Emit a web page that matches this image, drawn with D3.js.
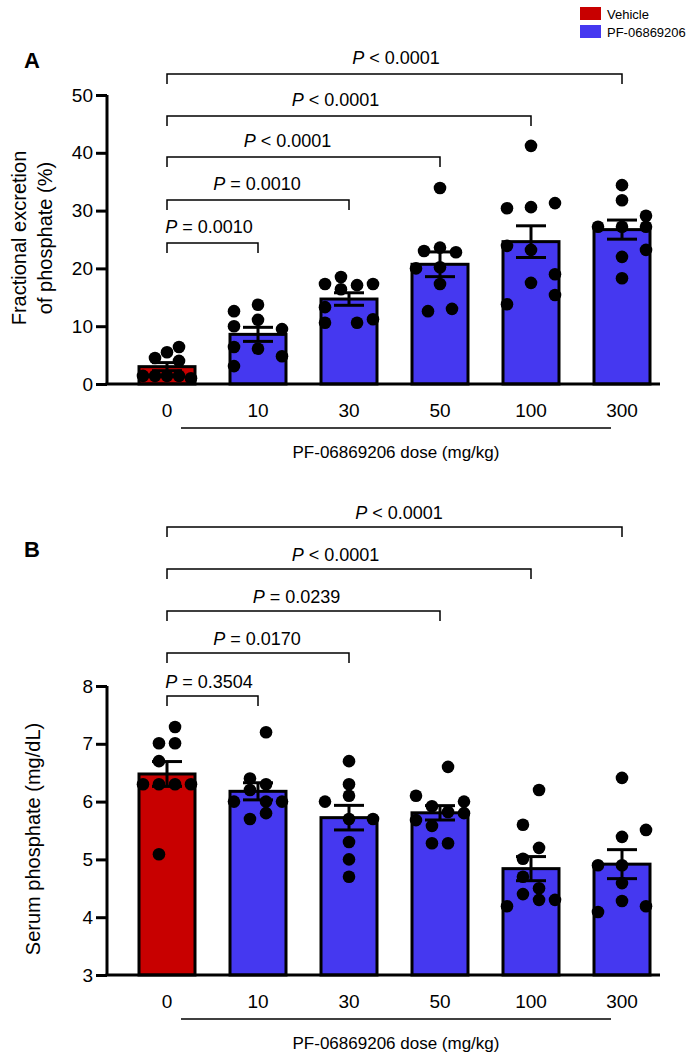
<!DOCTYPE html>
<html><head><meta charset="utf-8">
<script src="https://cdn.jsdelivr.net/npm/d3@7"></script>
<style>
body{margin:0;background:#fff}
text{font-family:"Liberation Sans",Arial,Helvetica,sans-serif;fill:#000}
</style></head>
<body>
<svg id="chart" width="696" height="1064"></svg>
<script>
// ---------------- DATA ----------------
const doses = ["0", "10", "30", "50", "100", "300"];
const doseGroup = ["Vehicle", "PF-06869206", "PF-06869206", "PF-06869206", "PF-06869206", "PF-06869206"];
const legendLabels = ["Vehicle", "PF-06869206"];

// Panel A: fractional excretion of phosphate (%), one array per dose
const fe0   = [4.5, 5.5, 6.4, 4.0, 1.4, 1.4, 1.4, 1.4, 1.0];
const fe10  = [12.6, 13.7, 10.0, 11.1, 6.1, 6.4, 3.1, 9.5, 4.8];
const fe30  = [17.3, 18.5, 16.4, 17.1, 17.3, 13.3, 10.6, 10.6, 11.2];
const fe50  = [33.9, 23.6, 23.0, 22.8, 20.2, 20.0, 17.3, 12.6, 13.0];
const fe100 = [41.2, 30.4, 30.6, 31.3, 23.9, 23.2, 17.5, 19.0, 15.4, 13.8];
const fe300 = [34.4, 31.8, 29.1, 27.2, 27.2, 27.2, 23.2, 22.0, 18.3];
// scatter jitter slot (dimensionless) of each point
const feJit0   = [-1, 0, 1, 1, -2, -1, 0, 1, 2];
const feJit10  = [-2, 0, -2, 0, 0, -2, -2, 2, 2];
const feJit30  = [-2, -0.67, -0.67, 0.67, 2, -2, -2, 0.67, 2];
const feJit50  = [0, 0, -1.33, 1.33, 0, -2, 0, -1, 1];
const feJit100 = [0, -2, 0, 2, -2, 0, 0, 2, 2, -2];
const feJit300 = [0, 0, 2, -2, 0, 2, 2, 0, 0];

// Panel B: serum phosphate (mg/dL)
const sp0   = [7.29, 7.01, 7.01, 6.70, 6.30, 6.30, 6.30, 6.30, 5.09];
const sp10  = [7.2, 6.4, 6.3, 6.2, 6.0, 6.0, 6.0, 5.8, 5.7];
const sp30  = [6.7, 6.3, 6.1, 6.0, 5.7, 5.7, 5.3, 5.0, 4.7];
const sp50  = [6.6, 6.1, 5.92, 5.82, 6.0, 5.8, 5.68, 5.58, 5.28, 5.28];
const sp100 = [6.2, 5.6, 5.2, 5.01, 4.7, 4.5, 4.4, 4.3, 4.19, 4.3];
const sp300 = [6.41, 5.51, 5.39, 4.9, 4.9, 4.59, 4.28, 4.09, 4.19];
const spJit0   = [0.67, -0.67, 0.67, -0.67, -2, -0.67, 0.67, 2, -0.67];
const spJit10  = [0.67, -0.67, 0.67, -0.67, -2, 0.67, 2, 0.67, -0.67];
const spJit30  = [0, 0, 0, -2, 0, 2, 0, 0, 0];
const spJit50  = [0.67, -2, -0.67, 0.67, 2, 2, -2, -0.67, -0.67, 0.67];
const spJit100 = [0.67, -0.67, 0.67, -0.67, -0.67, 0.67, -0.67, 0.67, -2, 2];
const spJit300 = [0, 2, 0, -2, 0, 0, 0, -2, 2];

// axis ticks
const feTicks = [0, 10, 20, 30, 40, 50];
const spTicks = [3, 4, 5, 6, 7, 8];

// significance comparisons (vs dose 0)
const feCompareTo = ["300", "100", "50", "30", "10"];
const fePLabels   = ["< 0.0001", "< 0.0001", "< 0.0001", "= 0.0010", "= 0.0010"];
const spCompareTo = ["300", "100", "50", "30", "10"];
const spPLabels   = ["< 0.0001", "< 0.0001", "= 0.0239", "= 0.0170", "= 0.3504"];

const xTitle = "PF-06869206 dose (mg/kg)";

// ---------------- LAYOUT / STYLE ----------------
const colors = {"Vehicle": "#c80000", "PF-06869206": "#4538f0"};
const svg = d3.select("#chart");
const axisX0 = 107, axisX1 = 660;
const barW = 56, slot = 12, dotR = 6.3, capW = 30;
const x = d3.scalePoint().domain(doses).range([167, 622]);

function stats(v) {
  const m = d3.mean(v);
  const sem = d3.deviation(v) / Math.sqrt(v.length);
  return {m, sem};
}

function panel(cfg) {
  const g = svg.append("g");
  const y = d3.scaleLinear().domain(cfg.domain).range(cfg.range);
  const base = cfg.range[0];

  // bars
  const rows = doses.map((d, i) => ({dose: d, group: doseGroup[i], vals: cfg.values[i], jit: cfg.jit[i], ...stats(cfg.values[i])}));
  g.selectAll("rect.bar").data(rows).join("rect")
    .attr("x", d => x(d.dose) - barW / 2)
    .attr("width", barW)
    .attr("y", d => y(d.m))
    .attr("height", d => base - y(d.m))
    .attr("fill", d => colors[d.group])
    .attr("stroke", "#000").attr("stroke-width", 3);

  // dots
  rows.forEach(r => {
    g.selectAll(null).data(r.vals.map((v, k) => ({v, j: r.jit[k]}))).join("circle")
      .attr("cx", d => x(r.dose) + d.j * slot)
      .attr("cy", d => y(d.v))
      .attr("r", dotR).attr("fill", "#000");
  });

  // error bars (mean ± SEM)
  const eb = g.selectAll("g.eb").data(rows).join("g").attr("stroke", "#000").attr("stroke-width", 3);
  eb.append("line").attr("x1", d => x(d.dose)).attr("x2", d => x(d.dose))
    .attr("y1", d => y(d.m + d.sem)).attr("y2", d => y(d.m - d.sem));
  eb.append("line").attr("x1", d => x(d.dose) - capW / 2).attr("x2", d => x(d.dose) + capW / 2)
    .attr("y1", d => y(d.m + d.sem)).attr("y2", d => y(d.m + d.sem));
  eb.append("line").attr("x1", d => x(d.dose) - capW / 2).attr("x2", d => x(d.dose) + capW / 2)
    .attr("y1", d => y(d.m - d.sem)).attr("y2", d => y(d.m - d.sem));

  // y axis
  const ya = g.append("g").attr("transform", `translate(${axisX0},0)`)
    .call(d3.axisLeft(y).tickValues(cfg.ticks).tickSize(11).tickPadding(3).tickFormat(d3.format("d")));
  ya.select(".domain").attr("stroke-width", 3).attr("d", `M0,${cfg.range[1]}V${base}`);
  ya.selectAll(".tick line").attr("stroke-width", 3);
  ya.selectAll(".tick text").style("font-size", "19px").style("font-family", "Liberation Sans, Arial, sans-serif");

  // x axis line
  g.append("line").attr("x1", axisX0 - 1.5).attr("x2", axisX1).attr("y1", base).attr("y2", base)
    .attr("stroke", "#000").attr("stroke-width", 3);
  g.selectAll("text.xl").data(doses).join("text")
    .attr("x", d => x(d)).attr("y", base + 33).attr("text-anchor", "middle")
    .style("font-size", "19px").text(d => d);
  g.append("line").attr("x1", 181).attr("x2", 611).attr("y1", base + 44).attr("y2", base + 44)
    .attr("stroke", "#000").attr("stroke-width", 1.5);
  g.append("text").attr("x", 396).attr("y", base + 74).attr("text-anchor", "middle")
    .style("font-size", "17px").text(xTitle);

  // y label
  const yl = g.append("text").attr("transform", `translate(${cfg.ylabX},${cfg.ylabY}) rotate(-90)`)
    .attr("text-anchor", "middle").style("font-size", "20px");
  cfg.ylab.forEach((t, i) => yl.append("tspan").attr("x", 0).attr("dy", i === 0 ? 0 : 26).text(t));

  // panel letter
  g.append("text").attr("x", 24).attr("y", cfg.letterY).style("font-size", "22px").style("font-weight", "bold").text(cfg.letter);

  // significance brackets
  cfg.compareTo.forEach((t, i) => {
    const by = cfg.brY[i], x0 = x("0"), x1 = x(t);
    g.append("path").attr("d", `M${x0},${by + 10}V${by}H${x1}V${by + 10}`)
      .attr("fill", "none").attr("stroke", "#000").attr("stroke-width", 1.5);
    const tx = g.append("text").attr("x", (x0 + x1) / 2 + cfg.txOff[i]).attr("y", by - cfg.txGap)
      .attr("text-anchor", "middle").style("font-size", "18px");
    tx.append("tspan").style("font-style", "italic").text("P");
    tx.append("tspan").text(" " + cfg.pLabels[i]);
  });
}

panel({
  domain: [0, 50], range: [384, 95], ticks: feTicks,
  values: [fe0, fe10, fe30, fe50, fe100, fe300],
  jit: [feJit0, feJit10, feJit30, feJit50, feJit100, feJit300],
  ylab: ["Fractional excretion", "of phosphate (%)"], ylabX: 26, ylabY: 238,
  letter: "A", letterY: 68,
  compareTo: feCompareTo, pLabels: fePLabels,
  brY: [74, 116, 157, 200, 243], txOff: [1.5, -13.5, -16, -1, -3.5], txGap: 10
});

panel({
  domain: [3, 8], range: [975, 686], ticks: spTicks,
  values: [sp0, sp10, sp30, sp50, sp100, sp300],
  jit: [spJit0, spJit10, spJit30, spJit50, spJit100, spJit300],
  ylab: ["Serum phosphate (mg/dL)"], ylabX: 40, ylabY: 839,
  letter: "B", letterY: 557,
  compareTo: spCompareTo, pLabels: spPLabels,
  brY: [527, 569, 611, 653, 696], txOff: [4.5, -13.5, -7, -1, -3.5], txGap: 8
});

// legend
const lg = svg.append("g");
legendLabels.forEach((l, i) => {
  lg.append("rect").attr("x", 580).attr("y", 7 + i * 18).attr("width", 21).attr("height", 13).attr("fill", colors[l]);
  lg.append("text").attr("x", 607).attr("y", 19 + i * 18).style("font-size", "13px").text(l);
});
</script>
</body></html>
